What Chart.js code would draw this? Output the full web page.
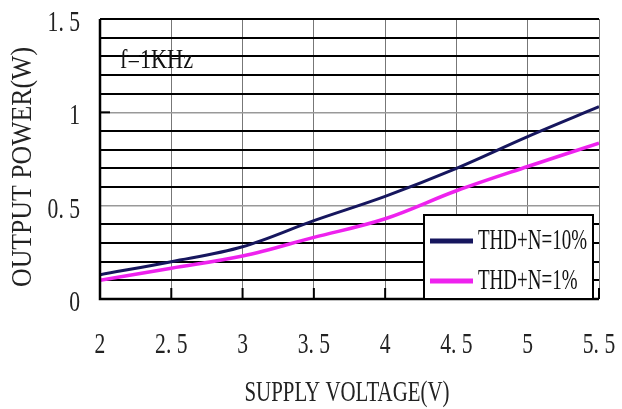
<!DOCTYPE html>
<html><head><meta charset="utf-8">
<script src="https://cdn.jsdelivr.net/npm/chart.js@4/dist/chart.umd.min.js"></script>
<style>html,body{margin:0;padding:0;background:#fff}#wrap{width:622px;height:409px}</style>
</head><body><div id="wrap"><canvas id="c" width="622" height="409"></canvas></div>
<script>
const voltages = [2, 2.5, 3, 3.5, 4, 4.5, 5, 5.5];
const thd10 = [0.13, 0.20, 0.28, 0.42, 0.55, 0.70, 0.87, 1.03];
const thd1 = [0.10, 0.165, 0.23, 0.33, 0.43, 0.58, 0.71, 0.835];
const xTickLabels = ['2', '2. 5', '3', '3. 5', '4', '4. 5', '5', '5. 5'];
const yTickValues = [0, 0.5, 1, 1.5];
const yTickLabels = ['0', '0. 5', '1', '1. 5'];
const seriesNames = ['THD+N=10%', 'THD+N=1%'];
const seriesColors = ['#16165e', '#ee22ee'];
const xTitle = 'SUPPLY VOLTAGE(V)';
const yTitle = 'OUTPUT POWER(W)';
const note = 'f=1KHz';
const FONT = '"Liberation Serif", "DejaVu Serif", serif';

function txt(ctx, s, x, y, size, sx, align, rot) {
  ctx.save();
  ctx.font = size + 'px ' + FONT;
  ctx.textBaseline = 'middle';
  ctx.textAlign = align || 'center';
  ctx.translate(x, y);
  if (rot) ctx.rotate(rot);
  ctx.scale(sx, 1);
  ctx.fillText(s, 0, 0);
  ctx.restore();
}
function fitSx(ctx, s, size, w) {
  ctx.save(); ctx.font = size + 'px ' + FONT;
  const m = ctx.measureText(s).width; ctx.restore();
  return w / m;
}

const extras = {
  id: 'extras',
  afterDraw(chart) {
    const ctx = chart.ctx, a = chart.chartArea;
    const xs = chart.scales.x, ys = chart.scales.y;
    ctx.save();
    ctx.strokeStyle = '#000'; ctx.lineWidth = 2;
    voltages.forEach(v => {
      const px = xs.getPixelForValue(v);
      ctx.beginPath(); ctx.moveTo(px, a.bottom); ctx.lineTo(px, a.bottom - 11); ctx.stroke();
    });
    [1, 1.5].forEach(v => {
      const py = ys.getPixelForValue(v);
      ctx.beginPath(); ctx.moveTo(a.left, py); ctx.lineTo(a.left + 10, py); ctx.stroke();
    });
    ctx.lineWidth = 2.5;
    ctx.beginPath(); ctx.moveTo(a.left, a.top); ctx.lineTo(a.left, a.bottom); ctx.lineTo(a.right, a.bottom); ctx.stroke();
    ctx.fillStyle = '#222';
    voltages.forEach((v, i) => txt(ctx, xTickLabels[i], xs.getPixelForValue(v), a.bottom + 46, 30, 0.72, 'center'));
    yTickValues.forEach((v, i) => txt(ctx, yTickLabels[i], a.left - 20, ys.getPixelForValue(v) + 4, 30, 0.72, 'right'));
    txt(ctx, xTitle, 347, 393, 30, fitSx(ctx, xTitle, 30, 205), 'center');
    txt(ctx, yTitle, 23, 167, 29, fitSx(ctx, yTitle, 29, 240), 'center', -Math.PI / 2);
    ctx.fillStyle = '#111';
    txt(ctx, note, 120, 61, 28, fitSx(ctx, note, 28, 73), 'left');
    const lx = 424, ly = 215, lw = 169, lh = 84;
    ctx.fillStyle = '#fff';
    ctx.fillRect(lx, ly, lw, lh);
    ctx.strokeStyle = '#000'; ctx.lineWidth = 2;
    ctx.strokeRect(lx, ly, lw, lh);
    const lsx = fitSx(ctx, seriesNames[0], 30, 109);
    chart.data.datasets.forEach((ds, i) => {
      const cy = ly + 26 + i * 40;
      ctx.strokeStyle = ds.borderColor; ctx.lineWidth = 5;
      ctx.beginPath(); ctx.moveTo(lx + 6, cy); ctx.lineTo(lx + 49, cy); ctx.stroke();
      ctx.fillStyle = '#111';
      txt(ctx, ds.label, lx + 54, cy, 30, lsx, 'left');
    });
    ctx.restore();
  }
};

new Chart(document.getElementById('c'), {
  type: 'line',
  data: {
    datasets: [
      { label: seriesNames[0], data: voltages.map((v, i) => ({x: v, y: thd10[i]})), borderColor: seriesColors[0], borderWidth: 3, pointRadius: 0, tension: 0.35, fill: false },
      { label: seriesNames[1], data: voltages.map((v, i) => ({x: v, y: thd1[i]})), borderColor: seriesColors[1], borderWidth: 3.5, pointRadius: 0, tension: 0.35, fill: false }
    ]
  },
  options: {
    responsive: false,
    animation: false,
    layout: { padding: { top: 19, right: 23, left: 0, bottom: 0 } },
    plugins: { legend: { display: false }, tooltip: { enabled: false } },
    scales: {
      x: {
        type: 'linear', min: 2, max: 5.5,
        afterBuildTicks: s => { s.ticks = voltages.map(v => ({value: v})); },
        afterFit: s => { s.height = 110; s.paddingLeft = 0; s.paddingRight = 0; },
        ticks: { display: false },
        grid: { color: '#777', lineWidth: 1, drawTicks: false },
        border: { display: false }
      },
      y: {
        type: 'linear', min: 0, max: 1.5,
        afterBuildTicks: s => { const t = []; for (let i = 0; i <= 15; i++) t.push({value: i / 10}); s.ticks = t; },
        afterFit: s => { s.width = 100; s.paddingTop = 0; s.paddingBottom = 0; },
        ticks: { display: false },
        grid: { color: c => (c.index === 5 || c.index === 10) ? '#999' : '#000', lineWidth: c => (c.index === 5 || c.index === 10) ? 1.5 : 2, drawTicks: false },
        border: { display: false }
      }
    }
  },
  plugins: [extras]
});
</script></body></html>
